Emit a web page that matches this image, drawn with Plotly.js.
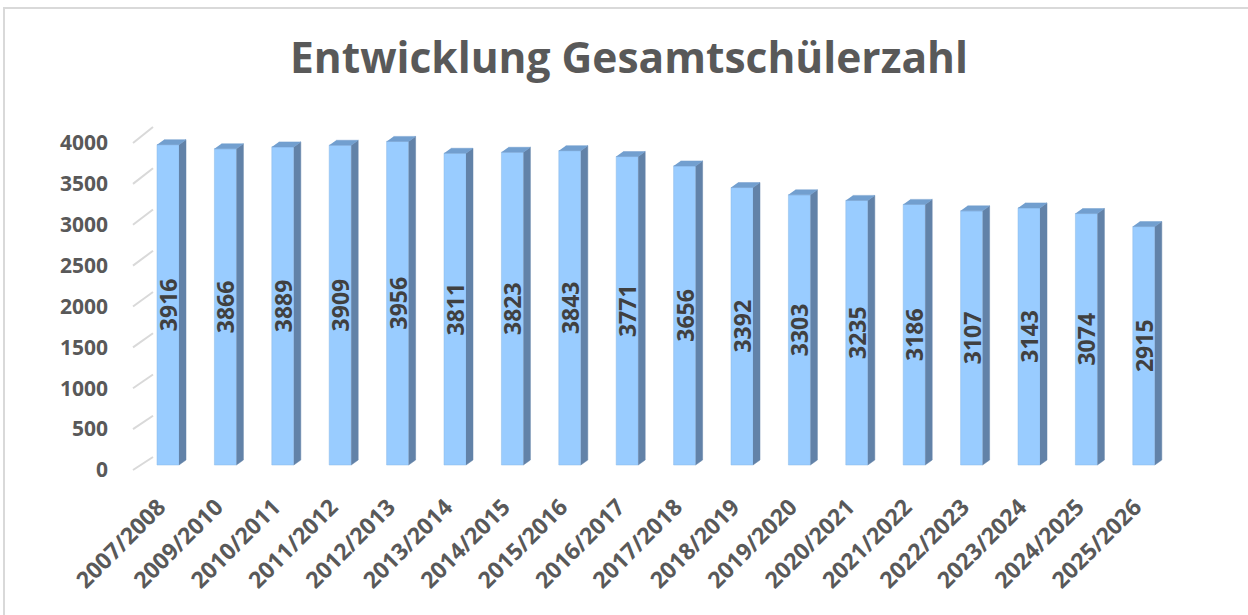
<!DOCTYPE html>
<html>
<head>
<meta charset="utf-8">
<script src="https://cdn.plot.ly/plotly-3.0.1.min.js"></script>
<style>
  html, body { margin: 0; padding: 0; background: #ffffff; }
  #wrap { position: relative; width: 1248px; height: 615px; overflow: hidden; }
  #frame { position: absolute; left: 3px; top: 7px; width: 1260px; height: 620px;
           border: 2px solid #d9d9d9; box-sizing: border-box; }
  #chart { position: absolute; left: 0; top: 0; width: 1248px; height: 615px; }
</style>
</head>
<body>
<div id="wrap">
  <div id="frame"></div>
  <div id="chart"></div>
</div>
<script>
// ---- data ----
const categories = ["2007/2008","2009/2010","2010/2011","2011/2012","2012/2013","2013/2014",
  "2014/2015","2015/2016","2016/2017","2017/2018","2018/2019","2019/2020","2020/2021",
  "2021/2022","2022/2023","2023/2024","2024/2025","2025/2026"];
const students = [3916,3866,3889,3909,3956,3811,3823,3843,3771,3656,3392,3303,3235,3186,3107,3143,3074,2915];
const yTicks = [0,500,1000,1500,2000,2500,3000,3500,4000];

// ---- geometry (styling) ----
const plotW = 1035, plotH = 344;
const pxPerCat = 57.4;
const xMin = -15 / pxPerCat, xMax = xMin + plotW / pxPerCat;
const barScale = 0.0818;                  // px per unit (bar plane)
const barRange = [-5 / barScale, (plotH - 5) / barScale];
const backScale = 0.0825;                 // px per unit (back wall)
const backRange = [-13 / backScale, (plotH - 13) / backScale];
const frontRange = [0, plotH / 0.08175];  // front (label) plane
const halfW = 11 / pxPerCat;
const dx = 7 / pxPerCat, dy = 5 / barScale;

const idx = categories.map((c, i) => i);

// side and top faces of the 3D columns, derived from the data
const sideX = [], sideY = [], topX = [], topY = [];
students.forEach((v, i) => {
  sideX.push(i + halfW, i + halfW + dx, i + halfW + dx, i + halfW, null);
  sideY.push(0, dy, v + dy, v, null);
  topX.push(i - halfW, i + halfW, i + halfW + dx, i - halfW + dx, null);
  topY.push(v, v, v + dy, v + dy, null);
});

const font = 'Open Sans, Arial, sans-serif';

const traces = [
  {
    type: 'bar', x: idx, y: students, yaxis: 'y2',
    width: 2 * halfW,
    marker: { color: '#99ccff', line: { color: '#8bb8e6', width: 0.5 } },
    text: students.map(String),
    textposition: 'inside', insidetextanchor: 'middle', textangle: -90,
    constraintext: 'none',
    textfont: { family: font, size: 23, color: '#404040', weight: 'bold' },
    hoverinfo: 'x+y', showlegend: false
  },
  {
    type: 'scatter', x: sideX, y: sideY, yaxis: 'y2', mode: 'lines',
    fill: 'toself', fillcolor: '#6282a8', line: { color: '#6282a8', width: 0.5 },
    hoverinfo: 'skip', showlegend: false
  },
  {
    type: 'scatter', x: topX, y: topY, yaxis: 'y2', mode: 'lines',
    fill: 'toself', fillcolor: '#729fcf', line: { color: '#729fcf', width: 0.5 },
    hoverinfo: 'skip', showlegend: false
  }
];

// diagonal connectors from front plane labels to the back wall grid
const shapes = yTicks.map(v => ({
  type: 'line', xref: 'paper', yref: 'paper', layer: 'below',
  x0: -20 / plotW, x1: 0,
  y0: (v - frontRange[0]) / (frontRange[1] - frontRange[0]),
  y1: (v - backRange[0]) / (backRange[1] - backRange[0]),
  line: { color: '#d9d9d9', width: 2 }
}));

const layout = {
  width: 1248, height: 615,
  margin: { l: 153, r: 1248 - 153 - plotW, t: 126, b: 615 - 126 - plotH, pad: 0 },
  paper_bgcolor: 'rgba(0,0,0,0)', plot_bgcolor: 'rgba(0,0,0,0)',
  title: {
    text: 'Entwicklung Gesamtschülerzahl',
    font: { family: font, size: 42.5, color: '#595959', weight: 'bold' },
    xref: 'container', x: 0.504, xanchor: 'center',
    yref: 'container', y: 1 - 58 / 615, yanchor: 'middle'
  },
  xaxis: {
    range: [xMin, xMax], tickmode: 'array', tickvals: idx, ticktext: categories,
    tickangle: -45, showgrid: false, zeroline: false, showline: false, ticks: '',
    ticklabelstandoff: 18, ticklabelshift: -9,
    tickfont: { family: font, size: 23, color: '#595959', weight: 'bold' },
    fixedrange: true
  },
  yaxis: {
    range: backRange, tickmode: 'array', tickvals: yTicks, showticklabels: false,
    showgrid: true, gridcolor: '#d9d9d9', gridwidth: 2, zeroline: false, showline: false,
    ticks: '', fixedrange: true
  },
  yaxis2: {
    range: barRange, overlaying: 'y', showgrid: false, zeroline: false,
    showticklabels: false, showline: false, ticks: '', fixedrange: true
  },
  yaxis3: {
    range: frontRange, overlaying: 'y', tickmode: 'array', tickvals: yTicks,
    showgrid: false, zeroline: false, showline: false, ticks: '',
    ticklabelstandoff: 44,
    tickfont: { family: font, size: 21, color: '#595959', weight: 'bold' },
    fixedrange: true
  },
  shapes: shapes,
  showlegend: false
};

// dummy trace to activate yaxis3
traces.push({ type: 'scatter', x: [0], y: [0], yaxis: 'y3', mode: 'none', hoverinfo: 'skip', showlegend: false });

Plotly.newPlot('chart', traces, layout, { displayModeBar: false, staticPlot: true });
</script>
</body>
</html>
